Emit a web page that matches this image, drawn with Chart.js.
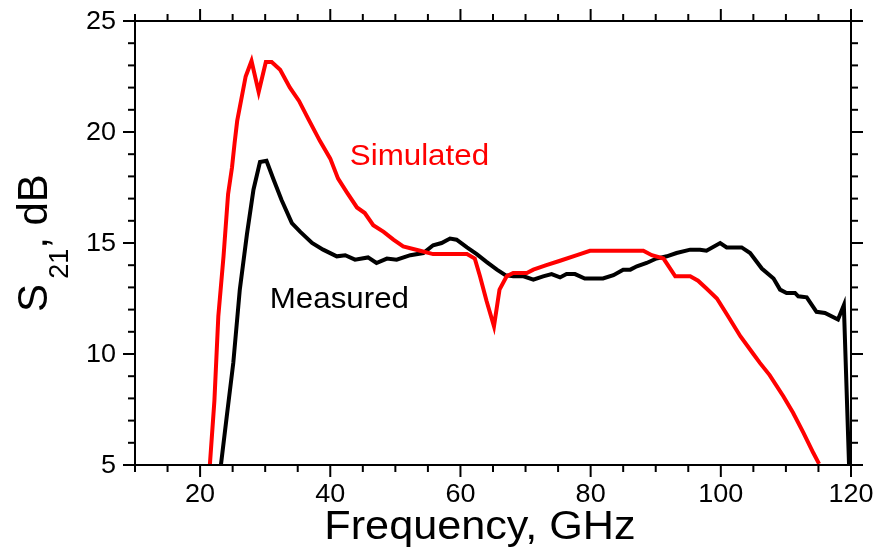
<!DOCTYPE html>
<html lang="en">
<head>
    <meta charset="UTF-8">
    <title>S21 vs Frequency</title>
    <script src="https://cdn.jsdelivr.net/npm/chart.js"></script>
    <style>
        body {
            margin: 0;
            padding: 0;
            background: #ffffff;
        }
        #chart {
            display: block;
        }
    </style>
</head>
<body>
    <canvas id="chart" width="877" height="551"></canvas>
    <script>
        // Simulated S21 (red)
        const simFreq = [21.5, 22.2, 22.8, 23.6, 24.3, 24.9, 25.3, 25.7, 27.0, 27.9, 29.0, 30.1, 31.0, 32.3, 33.8,
            35.2, 36.6, 38.4, 40.0, 41.2, 42.5, 44.1, 45.3, 46.6, 48.2, 49.7, 51.2, 53.8, 55.8, 61.0,
            62.2, 63.0, 64.0, 65.15, 66.0, 67.1, 68.1, 70.2, 71.2, 73.2, 75.3, 77.9, 79.9, 88.1, 89.4,
            91.2, 93.0, 95.3, 96.5, 97.8, 99.4, 100.9, 103.0, 105.0, 106.0, 107.5, 109.6, 111.1, 112.7, 114.2, 115.1];
        const simS21 = [5.0, 7.9, 11.7, 14.4, 17.2, 18.4, 19.5, 20.5, 22.5, 23.2, 21.8, 23.15, 23.15, 22.8, 22.0,
            21.4, 20.6, 19.6, 18.8, 17.9, 17.3, 16.6, 16.35, 15.8, 15.5, 15.15, 14.85, 14.65, 14.5, 14.5,
            14.3, 13.5, 12.4, 11.25, 12.9, 13.5, 13.65, 13.65, 13.8, 14.0, 14.2, 14.45, 14.65, 14.65, 14.45,
            14.3, 13.5, 13.5, 13.3, 12.95, 12.5, 11.8, 10.8, 10.0, 9.6, 9.05, 8.1, 7.35, 6.45, 5.55, 5.05];

        // Measured S21 (black)
        const measFreq = [23.2, 24.1, 25.1, 26.1, 27.2, 28.2, 29.2, 30.2, 31.3, 32.5, 34.1, 35.4, 37.2, 38.9, 41.0,
            42.3, 43.8, 45.8, 47.1, 48.7, 50.2, 52.3, 54.3, 55.8, 57.1, 58.4, 59.4, 61.0, 62.5, 64.0,
            65.6, 66.9, 68.1, 69.7, 71.2, 72.7, 74.0, 75.3, 76.3, 77.6, 79.1, 81.9, 83.5, 85.0, 86.1,
            87.1, 88.6, 90.1, 91.7, 93.2, 95.3, 96.8, 97.8, 99.9, 100.9, 103.2, 104.5, 106.3, 108.1, 109.1,
            110.1, 111.4, 111.9, 113.2, 114.7, 116.0, 118.0, 118.9, 119.7];
        const measS21 = [5.0, 7.2, 9.6, 12.9, 15.4, 17.4, 18.65, 18.7, 17.85, 16.95, 15.9, 15.5, 15.0, 14.7, 14.4,
            14.45, 14.25, 14.35, 14.1, 14.3, 14.25, 14.45, 14.55, 14.9, 15.0, 15.2, 15.15, 14.8, 14.5, 14.15,
            13.8, 13.55, 13.5, 13.5, 13.35, 13.5, 13.6, 13.45, 13.6, 13.6, 13.4, 13.4, 13.55, 13.8, 13.8,
            13.95, 14.1, 14.3, 14.4, 14.55, 14.7, 14.7, 14.65, 15.0, 14.8, 14.8, 14.55, 13.85, 13.4, 12.9,
            12.75, 12.75, 12.6, 12.55, 11.9, 11.85, 11.55, 12.2, 5.0];

        // Axes
        const xMin = 10, xMax = 120, xMinorStep = 5;
        const yMin = 5, yMax = 25, yMinorStep = 1;
        const xTickValues = [20, 40, 60, 80, 100, 120];
        const yTickValues = [5, 10, 15, 20, 25];

        const FONT = '"Liberation Sans", Arial, sans-serif';
        const STRETCH = 1.08; // the original lettering is a bit wider than Arial

        function drawText(ctx, text, px, py, size, align, color) {
            ctx.save();
            ctx.font = size + 'px ' + FONT;
            ctx.fillStyle = color || '#000';
            ctx.textAlign = align;
            ctx.textBaseline = 'alphabetic';
            ctx.translate(px, py);
            ctx.scale(STRETCH, 1);
            ctx.fillText(text, 0, 0);
            ctx.restore();
        }

        function tick(ctx, x1, y1, x2, y2) {
            ctx.beginPath();
            ctx.moveTo(x1, y1);
            ctx.lineTo(x2, y2);
            ctx.stroke();
        }

        // frame, outward ticks on all four sides, labels and titles
        const framePlugin = {
            id: 'frame',
            afterDraw(chart) {
                const ctx = chart.ctx;
                const a = chart.chartArea;
                const xs = chart.scales.x;
                const ys = chart.scales.y;
                ctx.save();
                ctx.strokeStyle = '#000';
                ctx.lineWidth = 2;
                ctx.lineCap = 'square';
                ctx.strokeRect(a.left, a.top, a.right - a.left, a.bottom - a.top);
                ctx.lineCap = 'butt';

                for (let v = xMin; v <= xMax; v += xMinorStep) {
                    const px = xs.getPixelForValue(v);
                    const len = xTickValues.includes(v) ? 12 : 7;
                    tick(ctx, px, a.bottom, px, a.bottom + len);
                    tick(ctx, px, a.top, px, a.top - len);
                }
                for (let v = yMin; v <= yMax; v += yMinorStep) {
                    const py = ys.getPixelForValue(v);
                    const len = yTickValues.includes(v) ? 12 : 7;
                    tick(ctx, a.left, py, a.left - len, py);
                    tick(ctx, a.right, py, a.right + len, py);
                }
                ctx.restore();

                xTickValues.forEach(v => {
                    drawText(ctx, String(v), xs.getPixelForValue(v), a.bottom + 37, 25, 'center');
                });
                yTickValues.forEach(v => {
                    drawText(ctx, String(v), a.left - 19, ys.getPixelForValue(v) + 8, 25, 'right');
                });

                // x title
                drawText(ctx, 'Frequency, GHz', (a.left + a.right) / 2 - 13, a.bottom + 74, 40, 'center');

                // y title with subscript, rotated
                ctx.save();
                ctx.fillStyle = '#000';
                ctx.textAlign = 'left';
                ctx.textBaseline = 'alphabetic';
                const big = '42px ' + FONT, small = '27px ' + FONT;
                ctx.font = big;
                const wS = ctx.measureText('S').width;
                const wRest = ctx.measureText(', dB').width;
                ctx.font = small;
                const wSub = ctx.measureText('21').width;
                const total = wS + 5 + wSub + wRest;
                ctx.translate(47, (a.top + a.bottom) / 2 + total / 2);
                ctx.rotate(-Math.PI / 2);
                ctx.font = big;
                ctx.fillText('S', 0, 0);
                ctx.font = small;
                ctx.fillText('21', wS + 5, 21);
                ctx.font = big;
                ctx.fillText(', dB', wS + 5 + wSub, 0);
                ctx.restore();

                // series labels
                drawText(ctx, 'Simulated', xs.getPixelForValue(43.0), ys.getPixelForValue(18.5), 29, 'left', '#ff0000');
                drawText(ctx, 'Measured', xs.getPixelForValue(30.7), ys.getPixelForValue(12.05), 29, 'left', '#000');
            }
        };

        const ctx = document.getElementById('chart').getContext('2d');
        new Chart(ctx, {
            type: 'line',
            data: {
                datasets: [
                    {
                        label: 'Simulated',
                        data: simFreq.map((f, i) => ({ x: f, y: simS21[i] })),
                        borderColor: '#ff0000',
                        borderWidth: 4,
                        pointRadius: 0,
                        tension: 0,
                        fill: false
                    },
                    {
                        label: 'Measured',
                        data: measFreq.map((f, i) => ({ x: f, y: measS21[i] })),
                        borderColor: '#000000',
                        borderWidth: 4,
                        pointRadius: 0,
                        tension: 0,
                        fill: false
                    }
                ]
            },
            options: {
                responsive: false,
                animation: false,
                devicePixelRatio: 1,
                layout: {
                    padding: { top: 21, right: 26, left: 0, bottom: 0 }
                },
                scales: {
                    x: {
                        type: 'linear',
                        min: xMin,
                        max: xMax,
                        ticks: { display: false },
                        grid: { display: false },
                        border: { display: false },
                        afterFit: s => { s.height = 86; }
                    },
                    y: {
                        type: 'linear',
                        min: yMin,
                        max: yMax,
                        ticks: { display: false },
                        grid: { display: false },
                        border: { display: false },
                        afterFit: s => { s.width = 135; }
                    }
                },
                plugins: {
                    legend: { display: false },
                    tooltip: { enabled: false }
                }
            },
            plugins: [framePlugin]
        });
    </script>
</body>
</html>
